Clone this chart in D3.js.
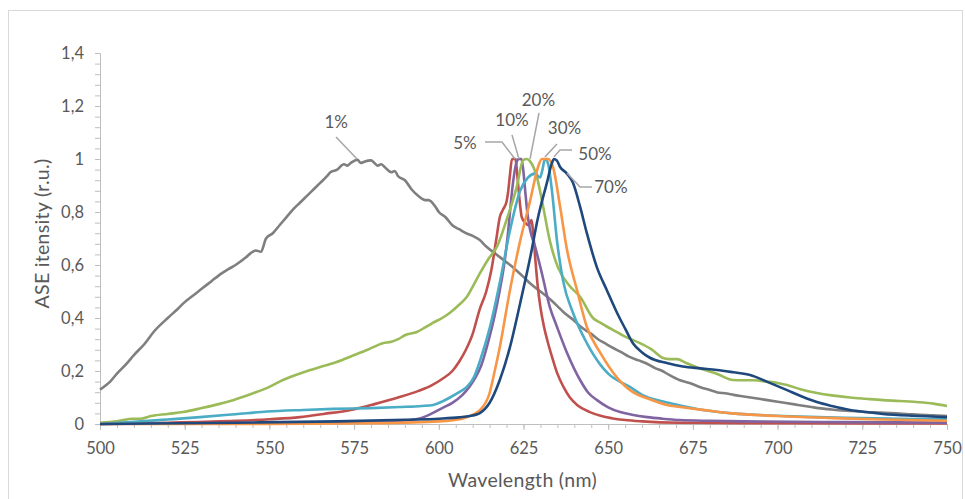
<!DOCTYPE html>
<html>
<head>
<meta charset="utf-8">
<script src="https://cdn.jsdelivr.net/npm/d3@7"></script>
<style>
  html, body { margin: 0; padding: 0; background: #fff; }
  svg { display: block; }
  text { font-family: Lato, "Open Sans", sans-serif; fill: #595959; }
</style>
</head>
<body>
<svg id="chart" width="965" height="499"></svg>
<script>
// ---------- DATA ----------
const xTicks = [500, 525, 550, 575, 600, 625, 650, 675, 700, 725, 750];
const yTicks = [0, 0.2, 0.4, 0.6, 0.8, 1, 1.2, 1.4];
const yTickLabels = ["0", "0,2", "0,4", "0,6", "0,8", "1", "1,2", "1,4"];

const seriesNames = ["1%", "5%", "10%", "20%", "50%", "30%", "70%"];
const seriesColors = ["#7f7f7f", "#c0504d", "#8064a2", "#9bbb59", "#4bacc6", "#f79646", "#1f497d"];

const s1 = [[500,0.13],[503,0.16],[505,0.19],[508,0.23],[510,0.26],[513,0.30],[516,0.35],[520,0.40],[523,0.435],[525,0.46],[528,0.49],[530,0.51],[533,0.54],[535,0.56],[538,0.585],[540,0.60],[543,0.628],[544.5,0.645],[546,0.655],[547.5,0.65],[549,0.70],[551,0.72],[553,0.75],[555,0.78],[557,0.81],[559,0.835],[561,0.86],[563,0.885],[565,0.91],[567,0.935],[568,0.95],[570,0.96],[572,0.98],[573,0.975],[574,0.985],[576,0.997],[577,0.985],[578,0.99],[580,0.995],[581,0.985],[582,0.975],[583,0.98],[584,0.97],[586,0.95],[587,0.955],[588,0.935],[590,0.92],[592,0.885],[594,0.86],[596,0.845],[597,0.845],[599,0.82],[600,0.80],[602,0.78],[604,0.75],[606,0.735],[608,0.72],[610,0.71],[612,0.695],[614,0.67],[617,0.64],[620,0.61],[622,0.59],[625,0.555],[627,0.53],[630,0.50],[632,0.48],[635,0.445],[637,0.42],[640,0.39],[642,0.366],[645,0.34],[647,0.32],[649,0.305],[651,0.29],[654,0.27],[656,0.255],[659,0.24],[661,0.23],[664,0.21],[666,0.20],[668,0.185],[671,0.166],[674,0.155],[677,0.14],[680,0.128],[682,0.12],[685,0.115],[687,0.11],[690,0.104],[692,0.10],[695,0.094],[697,0.09],[700,0.084],[702,0.08],[705,0.074],[707,0.07],[710,0.064],[712,0.06],[715,0.056],[718,0.052],[722,0.049],[726,0.045],[730,0.043],[735,0.04],[738,0.038],[742,0.035],[746,0.033],[750,0.03]];

const s5 = [[500,0.0],[520,0.005],[540,0.012],[550,0.018],[559,0.026],[566,0.038],[574,0.053],[581,0.075],[588,0.10],[594,0.125],[598,0.147],[601,0.17],[604,0.20],[606,0.235],[608,0.28],[610,0.34],[612,0.43],[614,0.50],[615.5,0.58],[617,0.70],[618,0.78],[619,0.81],[620,0.84],[620.5,0.88],[621,0.94],[621.6,1.0],[622.6,1.0],[623.3,0.92],[623.8,0.85],[624.5,0.78],[625.5,0.76],[626.5,0.75],[627.3,0.77],[628,0.70],[628.5,0.62],[629.2,0.52],[630,0.44],[631,0.37],[632,0.317],[633.5,0.25],[635,0.19],[636.8,0.14],[638.7,0.10],[641,0.07],[644.6,0.045],[648,0.03],[651,0.022],[655,0.015],[660,0.01],[671,0.005],[700,0.003],[750,0.002]];

const s10 = [[500,0.0],[540,0.003],[570,0.006],[588,0.012],[594,0.02],[598,0.04],[601,0.06],[604,0.08],[607,0.11],[609,0.14],[611,0.18],[612.5,0.22],[615,0.33],[616.5,0.41],[618,0.505],[619.5,0.62],[620.5,0.73],[621.3,0.84],[622,0.92],[623,0.99],[623.6,1.0],[624.4,1.0],[625,0.95],[625.5,0.88],[626.2,0.79],[627,0.73],[628.4,0.67],[630.4,0.57],[632.8,0.44],[634.9,0.366],[637.8,0.27],[641.7,0.166],[644,0.12],[646.7,0.09],[650,0.063],[653.5,0.045],[657,0.035],[661.5,0.026],[666,0.02],[671,0.015],[680,0.012],[690,0.01],[720,0.007],[750,0.005]];

const s20 = [[500,0.005],[505,0.01],[509.7,0.02],[512,0.02],[515,0.03],[520,0.038],[524.5,0.045],[530,0.06],[535,0.075],[539.3,0.09],[545,0.115],[550,0.14],[554,0.166],[560,0.195],[565,0.215],[569,0.23],[574,0.255],[579,0.28],[583.5,0.305],[586,0.31],[588,0.32],[590,0.335],[593.5,0.347],[596,0.365],[598,0.38],[601,0.40],[603.3,0.42],[606,0.45],[608.3,0.48],[610.5,0.53],[612.2,0.57],[614.5,0.62],[617.2,0.67],[620,0.77],[623,0.895],[624.9,0.996],[626,1.0],[627,0.99],[629,0.93],[630.8,0.82],[632.8,0.69],[635.2,0.59],[638.7,0.52],[641.7,0.48],[645.5,0.40],[648,0.38],[651.4,0.355],[655,0.33],[659.4,0.305],[663,0.28],[666,0.25],[668,0.245],[670.3,0.245],[673,0.23],[677,0.21],[682,0.19],[686.8,0.166],[690,0.165],[693,0.165],[696.8,0.16],[700,0.155],[702.8,0.147],[707,0.13],[711.6,0.117],[716,0.108],[721.4,0.10],[726,0.095],[731,0.09],[736,0.087],[741,0.083],[746,0.077],[750,0.068]];

const s50 = [[500,0.0],[510,0.008],[520,0.017],[529.5,0.026],[540,0.037],[549.3,0.047],[560,0.053],[568.8,0.057],[580,0.06],[588.5,0.064],[595,0.068],[598.3,0.072],[601,0.085],[603.3,0.10],[606,0.12],[608.3,0.14],[610.5,0.18],[612.2,0.24],[615.1,0.366],[618.1,0.54],[621,0.73],[624,0.88],[626.3,0.93],[628.4,0.945],[629.9,0.93],[630.6,0.96],[631.3,1.0],[632.2,0.985],[633.4,0.88],[634.9,0.69],[636.7,0.54],[639.6,0.42],[643.7,0.305],[647.6,0.225],[650,0.19],[656.4,0.14],[660,0.11],[666.2,0.085],[671.2,0.07],[677,0.055],[686.8,0.04],[696,0.033],[706.6,0.028],[720,0.023],[735,0.02],[750,0.018]];

const s30 = [[500,0.0],[550,0.0],[580,0.003],[600,0.01],[607,0.02],[610,0.035],[612.2,0.053],[615,0.117],[616.5,0.2],[618,0.29],[621,0.505],[624,0.69],[627,0.845],[629.3,0.97],[630.4,1.0],[632.2,1.0],[633.7,0.97],[635.8,0.82],[637.8,0.66],[640.8,0.505],[643.7,0.366],[647.6,0.27],[652.6,0.175],[657.3,0.12],[661.5,0.097],[667.3,0.072],[671.2,0.064],[680,0.05],[686.8,0.04],[700,0.03],[716.4,0.022],[735,0.016],[750,0.012]];

const s70 = [[500,0.0],[540,0.005],[570,0.01],[590,0.016],[600,0.02],[606,0.025],[610,0.032],[612,0.04],[615,0.08],[618,0.166],[621,0.29],[624,0.455],[627,0.63],[629.3,0.78],[631.9,0.91],[633.4,0.985],[634,1.0],[634.8,0.995],[635.8,0.97],[637.8,0.945],[639.6,0.91],[641.7,0.82],[643.7,0.72],[646.7,0.59],[649.6,0.505],[652.6,0.42],[655,0.36],[657.3,0.305],[660,0.27],[662.3,0.25],[667.3,0.23],[672,0.217],[677.1,0.21],[682.1,0.204],[687,0.195],[691.9,0.185],[696.8,0.16],[702.8,0.128],[707,0.105],[711.6,0.083],[716,0.068],[721.4,0.053],[726,0.045],[731.1,0.038],[740,0.031],[750,0.026]];

const seriesData = [s1, s5, s10, s20, s50, s30, s70];

// data labels: text anchor (center, baseline) and leader line points, in data units
const labelTexts = ["1%", "5%", "10%", "20%", "30%", "50%", "70%"];
const labelPos = [[569.7,1.117],[607.7,1.038],[621.6,1.1245],[629.4,1.2],[637.1,1.094],[646.1,0.996],[650.8,0.872]];
const leaderPts = [
  [[569.66,1.083],[575.86,1.0]],
  [[613.64,1.064],[618.65,1.064],[622.5,1.0]],
  [[621.6,1.091],[623.67,1.0]],
  [[629.58,1.174],[626.92,1.0]],
  [[634.89,1.057],[631.35,1.008]],
  [[639.32,1.034],[635.77,1.034],[634.0,1.008]],
  [[645.22,0.894],[641.68,0.894],[637.84,0.947]]
];

// ---------- CHART ----------
const svg = d3.select("#chart");
const M = {left: 100, top: 53, right: 18, bottom: 75};
const W = 965 - M.left - M.right;   // 847
const H = 499 - M.top - M.bottom;   // 371

svg.append("rect").attr("x", 8.5).attr("y", 10.5).attr("width", 954).attr("height", 520)
  .attr("fill", "none").attr("stroke", "#d9d9d9").attr("stroke-width", 1);

const x = d3.scaleLinear().domain([500, 750]).range([M.left, M.left + W]);
const y = d3.scaleLinear().domain([0, 1.4]).range([M.top + H, M.top]);

const axisColor = "#bfbfbf";

// y axis minor ticks
const yMinor = d3.range(0, 1.4001, 0.04);
const gy = svg.append("g").attr("transform", `translate(${M.left},0)`);
gy.call(d3.axisLeft(y).tickValues(yMinor).tickSize(5).tickFormat(""));
gy.select(".domain").remove();
gy.selectAll("line").attr("stroke", axisColor);
const gy2 = svg.append("g").attr("transform", `translate(${M.left},0)`);
gy2.call(d3.axisLeft(y).tickValues(yTicks).tickSize(5).tickPadding(11)
  .tickFormat((d, i) => yTickLabels[i]));
gy2.select(".domain").attr("stroke", axisColor);
gy2.selectAll("line").attr("stroke", axisColor);
gy2.selectAll("text").style("font-size", "16.5px").attr("fill", "#595959")
  .style("font-family", "Lato, 'Open Sans', sans-serif");

// x axis minor ticks
const xMinor = d3.range(500, 750.001, 5);
const gx = svg.append("g").attr("transform", `translate(0,${M.top + H})`);
gx.call(d3.axisBottom(x).tickValues(xMinor).tickSize(4).tickFormat(""));
gx.select(".domain").remove();
gx.selectAll("line").attr("stroke", axisColor);
const gx2 = svg.append("g").attr("transform", `translate(0,${M.top + H})`);
gx2.call(d3.axisBottom(x).tickValues(xTicks).tickSize(6).tickPadding(12).tickFormat(d3.format("d")));
gx2.select(".domain").attr("stroke", axisColor);
gx2.selectAll("line").attr("stroke", axisColor);
gx2.selectAll("text").style("font-size", "16.5px").attr("fill", "#595959")
  .style("font-family", "Lato, 'Open Sans', sans-serif");

// axis titles
svg.append("text").attr("x", M.left + W / 2 - 1).attr("y", 487)
  .attr("text-anchor", "middle").style("font-size", "19.5px").style("letter-spacing", "0.3px").text("Wavelength (nm)");
svg.append("text").attr("transform", `translate(49,${M.top + H / 2 - 5}) rotate(-90)`)
  .attr("text-anchor", "middle").style("font-size", "19.5px").style("letter-spacing", "0.3px").text("ASE itensity (r.u.)");

// lines
const line = d3.line().x(d => x(d[0])).y(d => y(d[1])).curve(d3.curveMonotoneX);
svg.append("g").selectAll("path").data(seriesData).join("path")
  .attr("d", line)
  .attr("fill", "none")
  .attr("stroke", (d, i) => seriesColors[i])
  .attr("stroke-width", 2.6)
  .attr("stroke-linejoin", "round");

// leader lines
const lline = d3.line().x(d => x(d[0])).y(d => y(d[1]));
svg.append("g").selectAll("path").data(leaderPts).join("path")
  .attr("d", lline).attr("fill", "none").attr("stroke", "#a6a6a6").attr("stroke-width", 1.5);

// labels
svg.append("g").selectAll("text").data(labelTexts).join("text")
  .attr("x", (d, i) => x(labelPos[i][0]))
  .attr("y", (d, i) => y(labelPos[i][1]))
  .attr("text-anchor", "middle")
  .style("font-size", "17px")
  .text(d => d);
</script>
</body>
</html>
